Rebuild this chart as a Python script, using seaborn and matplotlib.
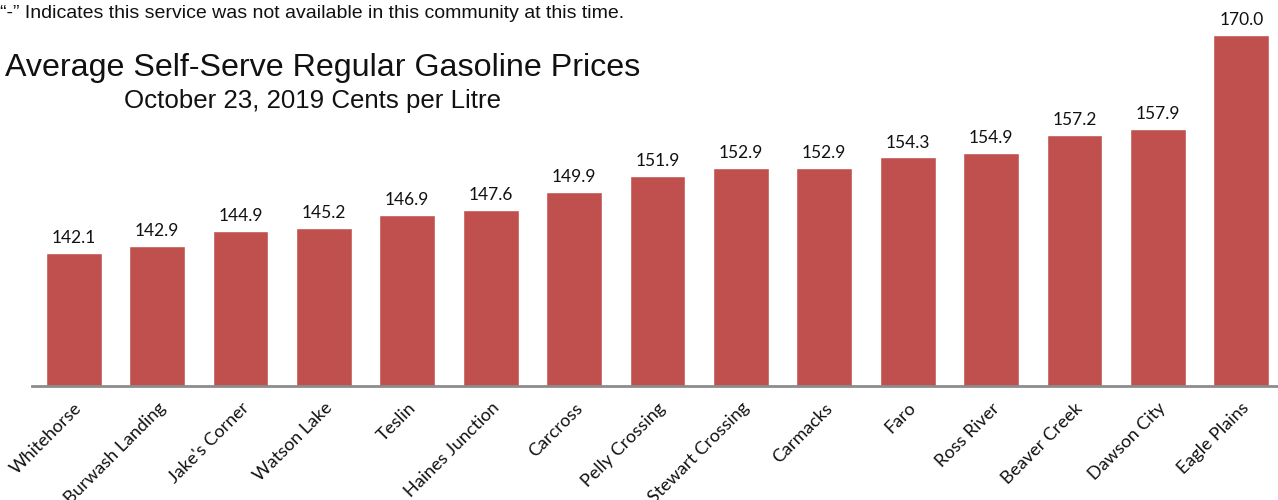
import matplotlib
matplotlib.use("Agg")
import matplotlib.pyplot as plt
import seaborn as sns
import pandas as pd

# chart data
communities = ["Whitehorse", "Burwash Landing", "Jake's Corner", "Watson Lake", "Teslin",
               "Haines Junction", "Carcross", "Pelly Crossing", "Stewart Crossing", "Carmacks",
               "Faro", "Ross River", "Beaver Creek", "Dawson City", "Eagle Plains"]
prices = [142.1, 142.9, 144.9, 145.2, 146.9, 147.6, 149.9, 151.9, 152.9, 152.9,
          154.3, 154.9, 157.2, 157.9, 170.0]

BAR_COLOR = "#C0504D"
AXIS_COLOR = "#8C8C8C"

df = pd.DataFrame({"community": communities, "price": prices})

sns.set_theme(style="white")
plt.rcParams["font.family"] = ["Lato", "DejaVu Sans"]

fig = plt.figure(figsize=(12.78, 5.0), dpi=100)
ax = fig.add_axes([32 / 1278, 114 / 500, 1251 / 1278, 351 / 500])

sns.barplot(data=df, x="community", y="price", color=BAR_COLOR, width=0.67,
            saturation=1, ax=ax)

ax.set_ylim(125, 170)
ax.set_xlim(-0.5, len(communities) - 0.5)

for c in ax.containers:
    ax.bar_label(c, fmt="%.1f", padding=5, fontsize=12.5, color="#111111")

# Excel-style axis: tick marks between categories, no y axis
for s in ["top", "right", "left"]:
    ax.spines[s].set_visible(False)
ax.spines["bottom"].set_color(AXIS_COLOR)
ax.spines["bottom"].set_linewidth(2)
ax.set_yticks([])
ax.set_xticks(range(len(communities)))
ax.set_xticklabels(communities, rotation=45, ha="right", rotation_mode="anchor",
                   fontsize=13, color="#111111")
ax.tick_params(axis="x", which="major", length=0, pad=10)
ax.set_xticks([i - 0.5 for i in range(len(communities) + 1)], minor=True)
ax.tick_params(axis="x", which="minor", length=6, width=2, color=AXIS_COLOR, direction="out")
ax.set_xlabel("")
ax.set_ylabel("")

# header texts
fig.text(0.0, 1 - 14 / 500, "\u201c-\u201d Indicates this service was not available in this community at this time.",
         fontsize=14, family="Liberation Sans", va="center", ha="left", color="#111111")
fig.text(5 / 1278, 1 - 68 / 500, "Average Self-Serve Regular Gasoline Prices",
         fontsize=23.2, family="Liberation Sans", va="center", ha="left", color="#111111")
fig.text(124 / 1278, 1 - 101 / 500, "October 23, 2019 Cents per Litre",
         fontsize=18.6, family="Liberation Sans", va="center", ha="left", color="#111111")

fig.savefig("out.png", dpi=100)
